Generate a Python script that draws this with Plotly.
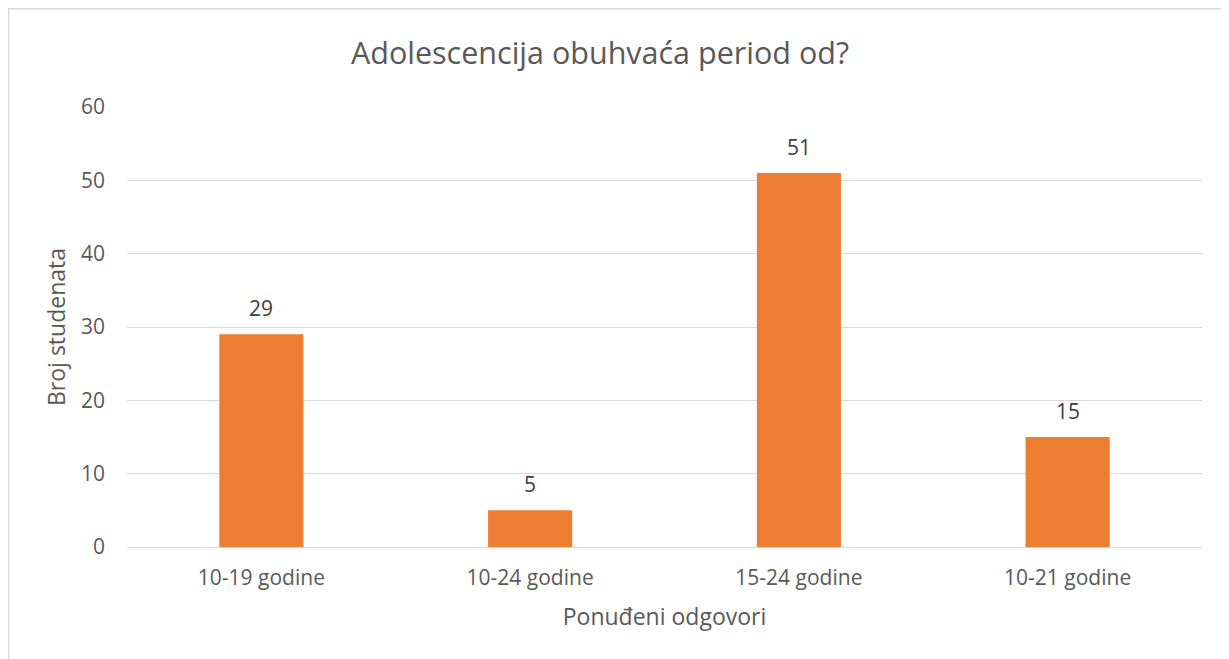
import plotly.graph_objects as go

categories = ["10-19 godine", "10-24 godine", "15-24 godine", "10-21 godine"]
values = [29, 5, 51, 15]
y_ticks = [0, 10, 20, 30, 40, 50, 60]

FONT = "Open Sans, Liberation Sans, sans-serif"
GREY = "#595959"

fig = go.Figure(go.Bar(x=categories, y=values, marker=dict(color="#ED7D31", line=dict(width=0)),
                       hoverinfo="x+y"))

for c, v in zip(categories, values):
    fig.add_annotation(x=c, y=v, text=str(v), showarrow=False, yanchor="bottom", yshift=10,
                       font=dict(family=FONT, size=21, color="#404040"))

# page body has an 8px margin; figure coordinates are offset by it
OFF = 8
W, H = 1229 - OFF, 659 - OFF
L, T = 127 - OFF, 107 - OFF
R = W - (1202 - OFF)
B = H - (547 - OFF)
pw, ph = W - L - R, H - T - B

def px(x):
    return (x - OFF - L) / pw

def py(y):
    return (H - B - (y - OFF)) / ph

fig.add_shape(type="rect", xref="paper", yref="paper", x0=px(8.7), x1=px(1250), y0=py(690), y1=py(8.7),
              line=dict(color="#D9D9D9", width=1.4), fillcolor="rgba(0,0,0,0)", layer="below")

fig.update_layout(
    width=W, height=H,
    margin=dict(l=L, r=R, t=T, b=B),
    paper_bgcolor="white", plot_bgcolor="white",
    bargap=0.687,
    title=dict(text="Adolescencija obuhvaća period od?", x=(600 - OFF) / W, xanchor="center", xref="container",
               y=1 - (53 - OFF) / H, yanchor="middle", yref="container",
               font=dict(family=FONT, size=30.5, color=GREY)),
    font=dict(family=FONT, size=21, color=GREY),
    xaxis=dict(showgrid=False, showline=True, linecolor="#D9D9D9", linewidth=1.3, ticks="",
               ticklabelstandoff=12,
               tickfont=dict(family=FONT, size=21, color=GREY),
               title=dict(text="Ponuđeni odgovori", font=dict(family=FONT, size=23, color=GREY), standoff=18)),
    yaxis=dict(range=[0, 60], tickvals=y_ticks, showgrid=True, gridcolor="#D9D9D9", gridwidth=1.3,
               zeroline=False, showline=False, ticks="", ticklabelstandoff=21,
               tickfont=dict(family=FONT, size=21, color=GREY),
               title=dict(text="Broj studenata", font=dict(family=FONT, size=23, color=GREY), standoff=8)),
    showlegend=False,
)

fig.write_html("out.html")
